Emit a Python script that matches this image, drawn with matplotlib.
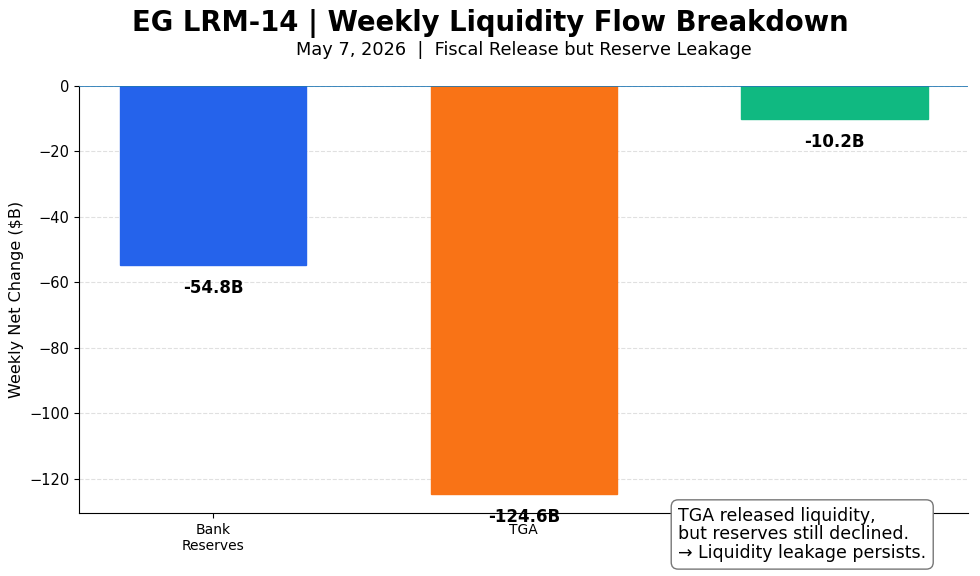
import matplotlib
matplotlib.use("Agg")
import matplotlib.pyplot as plt

# data
categories = ["Bank\nReserves", "TGA", "RRP"]
values = [-54.8, -124.6, -10.2]
colors = ["#2563eb", "#f97316", "#10b981"]

fig, ax = plt.subplots(figsize=(9.8, 5.76), dpi=100)
fig.subplots_adjust(left=0.081, right=0.988, top=0.851, bottom=0.109)

x = range(len(categories))
bars = ax.bar(x, values, width=0.6, color=colors, edgecolor=colors, zorder=2)
ax.set_xticks(list(x))
ax.set_xticklabels(categories, fontsize=10)

for b, v in zip(bars, values):
    ax.text(b.get_x() + b.get_width() / 2, v - 4.2, f"{v:.1f}B",
            ha="center", va="top", fontsize=12, fontweight="bold", zorder=3)

ax.axhline(0, color="#1f77b4", linewidth=1.2, zorder=3)
ax.set_ylim(min(values) * 1.047, 0)
ax.yaxis.grid(True, linestyle="--", color="#e0e0e0", linewidth=0.8, zorder=0)
ax.set_axisbelow(True)
ax.spines["top"].set_visible(False)
ax.spines["right"].set_visible(False)
ax.tick_params(axis="y", labelsize=10.5)
ax.set_ylabel("Weekly Net Change ($B)", fontsize=11.5)

fig.suptitle("EG LRM-14 | Weekly Liquidity Flow Breakdown",
             fontsize=19.8, fontweight="bold", y=0.985)
ax.set_title("May 7, 2026  |  Fiscal Release but Reserve Leakage",
             fontsize=12.8, pad=22)

fig.text(0.692, 0.024,
         "TGA released liquidity,\nbut reserves still declined.\n\u2192 Liquidity leakage persists.",
         fontsize=12.5, ha="left", va="bottom", zorder=10, linespacing=1.05,
         bbox=dict(boxstyle="round,pad=0.4", facecolor="white", edgecolor="#777777"))

plt.savefig("out.png", dpi=100)
